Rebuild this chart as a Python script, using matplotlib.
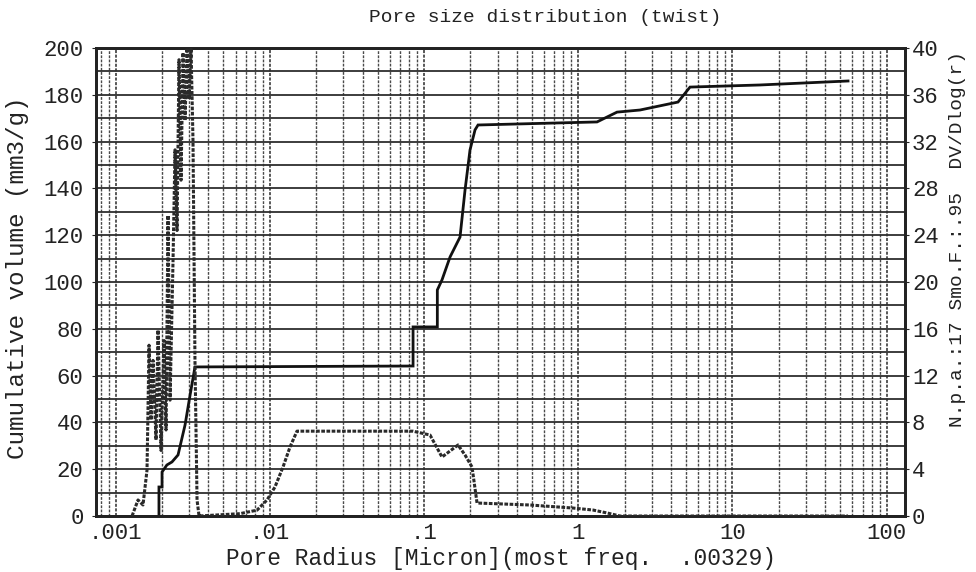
import matplotlib
matplotlib.use("Agg")
import matplotlib.pyplot as plt
from matplotlib.ticker import FixedLocator, NullFormatter
import numpy as np

# ---------------- data ----------------
title = "Pore size distribution (twist)"
xlabel = "Pore Radius [Micron](most freq.  .00329)"
ylabel_left = "Cumulative volume (mm3/g)"
ylabel_right = "N.p.a.:17 Smo.F.:.95  DV/Dlog(r)"

x_ticks = [0.001, 0.01, 0.1, 1, 10, 100]
x_ticklabels = [".001", ".01", ".1", "1", "10", "100"]
left_ticks = list(range(0, 201, 20))
right_ticks = list(range(0, 41, 4))

# cumulative volume (left axis, mm3/g)
cum_r = [0.00191, 0.00191, 0.0020, 0.0020, 0.00215, 0.00232, 0.00254, 0.00282,
         0.00304, 0.00327, 0.0849, 0.0849, 0.122, 0.122, 0.1308, 0.1475, 0.1712,
         0.1845, 0.1987, 0.2142, 0.224, 1.324, 1.785, 2.517, 4.438, 5.309, 15.1, 56.2]
cum_v = [0, 12.4, 12.4, 18.8, 21.8, 23.1, 26.1, 38.9, 51.7, 63.7, 64.1, 80.8, 80.8,
         96.6, 100.9, 110.7, 119.2, 139.3, 156.4, 165.0, 167.1, 168.4, 172.6, 173.5,
         176.9, 183.3, 184.2, 185.9]

# DV/Dlog(r) (right axis)
dv_r = [0.001278, 0.001397, 0.001505, 0.001598, 0.001647, 0.001697, 0.001748,
        0.001828, 0.001884, 0.00197, 0.00206, 0.002123, 0.002187, 0.002254,
        0.002357, 0.002428, 0.002502, 0.002577, 0.002656, 0.002736, 0.00282,
        0.002904, 0.002992, 0.003083, 0.003175, 0.00327, 0.003373, 0.003475,
        0.00641, 0.00826, 0.00959, 0.0108, 0.01218, 0.01352, 0.015, 0.0849,
        0.1094, 0.1308, 0.1662, 0.1845, 0.2048, 0.2207, 0.4869, 0.9254, 1.247,
        1.538, 1.867, 56.2]
dv_v = [0, 1.37, 0.94, 3.93, 14.6, 8.2, 13.3, 6.5, 15.9, 5.6, 15.0, 7.35, 25.7,
        9.9, 21.9, 31.3, 24.4, 39.0, 28.7, 39.6, 33.8, 40.0, 35.6, 40.0, 32.1,
        13.3, 1.37, 0, 0.2, 0.5, 1.37, 2.48, 4.19, 5.9, 7.25, 7.25, 6.92, 5.04,
        6.07, 5.21, 4.19, 1.11, 0.94, 0.68, 0.51, 0.26, 0.0, 0.0]

# ---------------- figure ----------------
W, H = 976, 572
fig = plt.figure(figsize=(W / 100, H / 100), dpi=100)
fig.patch.set_facecolor("white")
mono = ["Liberation Mono", "DejaVu Sans Mono"]
ink = "#222222"

ax = fig.add_axes([96 / W, 56 / H, 809 / W, 468 / H])
ax.set_xscale("log")
ax.set_xlim(0.000746, 131.6)
ax.set_ylim(0, 200)

# grid
minor_x = [m * 10.0 ** e for e in range(-4, 3) for m in range(2, 10)]
ax.xaxis.set_minor_locator(FixedLocator(minor_x))
ax.xaxis.set_minor_formatter(NullFormatter())
ax.set_xticks(x_ticks)
ax.set_xticklabels(x_ticklabels)
ax.set_yticks(left_ticks)
ax.set_yticks(list(range(10, 200, 20)), minor=True)
ax.grid(True, which="major", axis="x", color="#2a2a2a", lw=1.1, ls=(0, (2, 1)))
ax.grid(True, which="minor", axis="x", color="#4a4a4a", lw=1.0, ls=(0, (2, 1)))
ax.grid(True, which="both", axis="y", color="#2e2e2e", lw=1.3, ls="-")
ax.set_axisbelow(True)

for s in ax.spines.values():
    s.set_linewidth(2.0)
    s.set_color(ink)

ax.tick_params(axis="x", which="major", length=0, pad=5, labelsize=16, labelcolor=ink)
ax.tick_params(axis="x", which="minor", length=0)
ax.tick_params(axis="y", which="major", length=3, pad=6, labelsize=16, labelcolor=ink, color=ink)
ax.tick_params(axis="y", which="minor", length=0)
for lab in ax.get_xticklabels() + ax.get_yticklabels():
    lab.set_family(mono)

ax.plot(cum_r, cum_v, color="#111111", lw=2.0, solid_joinstyle="miter", zorder=5)

ax2 = ax.twinx()
ax2.set_ylim(0, 40)
ax2.set_yticks(right_ticks)
ax2.tick_params(axis="y", length=3, pad=2, labelsize=16, labelcolor=ink, color=ink)
for lab in ax2.get_yticklabels():
    lab.set_family(mono)
for s in ax2.spines.values():
    s.set_linewidth(2.0)
    s.set_color(ink)
ax2.plot(dv_r, dv_v, color="#2a2a2a", lw=2.2, ls=(0, (1.2, 0.5)), zorder=5)

# texts
fig.text(545 / W, 1 - 18 / H, title, ha="center", va="center",
         family=mono, fontsize=14, color=ink)
fig.text(501 / W, 1 - 558 / H, xlabel, ha="center", va="center",
         family=mono, fontsize=16.5, color=ink)
fig.text(18 / W, 1 - 278 / H, ylabel_left, ha="center", va="center", rotation=90,
         family=mono, fontsize=17.5, color=ink)
fig.text(958 / W, 1 - 239 / H, ylabel_right, ha="center", va="center", rotation=90,
         family=mono, fontsize=14, color=ink)

fig.savefig("out.png", dpi=100, facecolor="white")
